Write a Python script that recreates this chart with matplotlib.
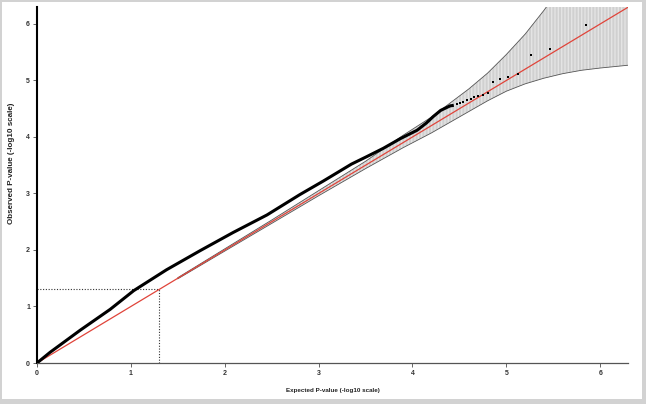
import numpy as np
import matplotlib
matplotlib.use("Agg")
import matplotlib.pyplot as plt
from matplotlib.patches import Rectangle

plt.rcParams['font.family'] = ['Liberation Sans', 'DejaVu Sans']

# observed vs expected -log10 p (dense part of the QQ curve)
curve_x = [0, 0.14, 0.46, 0.78, 1.03, 1.38, 1.74, 2.09, 2.45, 2.80, 3.05, 3.16,
           3.35, 3.51, 3.69, 3.87, 4.05, 4.15, 4.22, 4.30, 4.40, 4.44]
curve_y = [0, 0.19, 0.58, 0.95, 1.28, 1.65, 1.99, 2.31, 2.62, 2.98, 3.22, 3.33,
           3.52, 3.65, 3.80, 3.97, 4.12, 4.25, 4.36, 4.47, 4.55, 4.56]

# sparse top hits
tail_x = [4.47, 4.51, 4.54, 4.58, 4.62, 4.66, 4.70, 4.75, 4.80, 4.86, 4.93,
          5.02, 5.12, 5.26, 5.46, 5.85]
tail_y = [4.58, 4.60, 4.62, 4.65, 4.67, 4.70, 4.72, 4.75, 4.78, 4.97, 5.02,
          5.06, 5.11, 5.45, 5.55, 5.99]

# 95% confidence band
band_x = [1.5, 2.0, 2.5, 3.0, 3.5, 3.9, 4.2, 4.4, 4.6, 4.8, 5.0, 5.2, 5.4,
          5.6, 5.8, 6.0, 6.3]
band_hi = [1.51, 2.02, 2.53, 3.05, 3.57, 4.03, 4.35, 4.60, 4.85, 5.13, 5.46,
           5.82, 6.24, 6.70, 7.10, 7.50, 8.00]
band_lo = [1.49, 1.98, 2.47, 2.96, 3.44, 3.81, 4.07, 4.26, 4.45, 4.64, 4.81,
           4.94, 5.04, 5.12, 5.18, 5.22, 5.27]

max_exp = 6.3
sig = -np.log10(0.05)

fig = plt.figure(figsize=(6.46, 4.04), dpi=100)
fig.patch.set_facecolor('#d2d2d2')
fig.patches.append(Rectangle((2/646, 5/404), 640/646, 397/404, transform=fig.transFigure,
                             facecolor='white', edgecolor='none', zorder=-10))

ax = fig.add_axes([37/646, 41/404, 591.4/646, 356/404])
ax.patch.set_alpha(0)

ax.fill_between(band_x, band_lo, band_hi, facecolor='#d0d0d0', edgecolor='#e4e4e4',
                hatch='|||||', linewidth=0, zorder=1)
ax.plot(band_x, band_hi, color='#555555', lw=0.6, zorder=2)
ax.plot(band_x, band_lo, color='#555555', lw=0.6, zorder=2)

ax.plot([0, max_exp], [0, max_exp], color='#e0443a', lw=0.9, zorder=3)

ax.plot([0, sig], [sig, sig], color='#333333', ls=(0, (1, 1.5)), lw=0.8, zorder=2)
ax.plot([sig, sig], [0, sig], color='#333333', ls=(0, (1, 1.5)), lw=0.8, zorder=2)

ax.plot(curve_x, curve_y, color='black', lw=2.2, solid_capstyle='butt', zorder=4)
ax.plot(tail_x, tail_y, 's', color='black', ms=1.7, mew=0, zorder=4)

ax.set_xlim(0, max_exp)
ax.set_ylim(0, max_exp)
ax.set_xticks(range(7))
ax.set_yticks(range(7))
for s in ['top', 'right']:
    ax.spines[s].set_visible(False)
ax.spines['left'].set_color('black')
ax.spines['left'].set_linewidth(1.5)
ax.spines['bottom'].set_color('#555555')
ax.spines['bottom'].set_linewidth(0.9)
ax.tick_params(axis='both', length=3, width=0.7, color='#666666', labelsize=5,
               labelcolor='#333333', pad=2)
for lab in ax.get_xticklabels() + ax.get_yticklabels():
    lab.set_fontweight('bold')

fig.text(332.5/646, 1 - 390.7/404, 'Expected P-value (-log10 scale)', ha='center',
         va='center', fontsize=4.5, fontweight='bold', color='#222222')
fig.text(12/646, 1 - 163/404, 'Observed P-value (-log10 scale)', ha='center',
         va='center', rotation=90, fontsize=5.8, fontweight='bold', color='#222222')

fig.savefig('out.png', dpi=100)
